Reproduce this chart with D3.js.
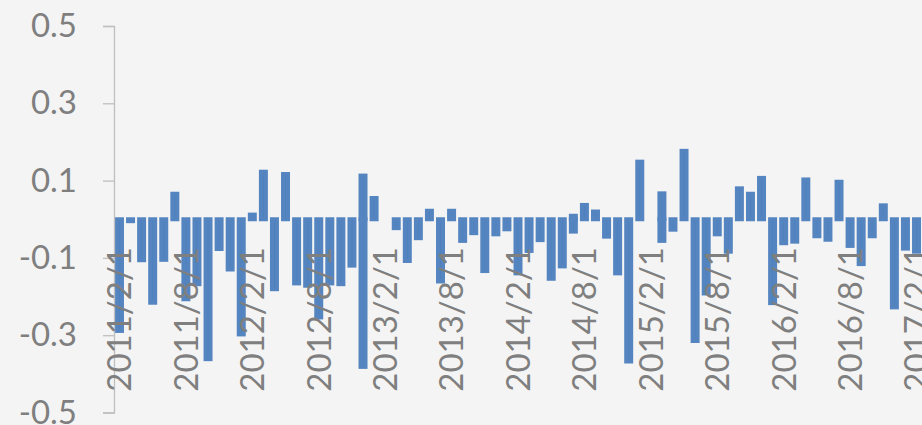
<!DOCTYPE html>
<html>
<head>
<meta charset="utf-8">
<script src="https://cdn.jsdelivr.net/npm/d3@7/dist/d3.min.js"></script>
<style>
  html, body { margin: 0; padding: 0; background: #F4F4F4; overflow: hidden; }
  svg { display: block; }
  text { font-family: Lato, "Open Sans", sans-serif; fill: #7F7F7F; }
</style>
</head>
<body>
<svg id="chart" width="922" height="425"></svg>
<script>
// Monthly axis slots (one per month, 2011/2 .. 2017/2)
const axisMonths = [
  "2011/2/1","2011/3/1","2011/4/1","2011/5/1","2011/6/1","2011/7/1","2011/8/1","2011/9/1","2011/10/1","2011/11/1","2011/12/1",
  "2012/1/1","2012/2/1","2012/3/1","2012/4/1","2012/5/1","2012/6/1","2012/7/1","2012/8/1","2012/9/1","2012/10/1","2012/11/1","2012/12/1",
  "2013/1/1","2013/2/1","2013/3/1","2013/4/1","2013/5/1","2013/6/1","2013/7/1","2013/8/1","2013/9/1","2013/10/1","2013/11/1","2013/12/1",
  "2014/1/1","2014/2/1","2014/3/1","2014/4/1","2014/5/1","2014/6/1","2014/7/1","2014/8/1","2014/9/1","2014/10/1","2014/11/1","2014/12/1",
  "2015/1/1","2015/2/1","2015/3/1","2015/4/1","2015/5/1","2015/6/1","2015/7/1","2015/8/1","2015/9/1","2015/10/1","2015/11/1","2015/12/1",
  "2016/1/1","2016/2/1","2016/3/1","2016/4/1","2016/5/1","2016/6/1","2016/7/1","2016/8/1","2016/9/1","2016/10/1","2016/11/1","2016/12/1",
  "2017/1/1","2017/2/1"
];

// Observations: month slot of each observation (some months hold two, some none)
const obsMonths = [
  "2011/2/1","2011/3/1","2011/4/1","2011/5/1","2011/6/1","2011/7/1","2011/8/1","2011/9/1","2011/10/1","2011/11/1","2011/12/1",
  "2012/1/1","2012/2/1","2012/3/1","2012/4/1","2012/5/1","2012/6/1","2012/7/1","2012/8/1","2012/9/1","2012/10/1","2012/11/1",
  "2012/12/1","2012/12/1",
  "2013/1/1","2013/3/1","2013/4/1","2013/5/1","2013/6/1","2013/7/1","2013/8/1","2013/9/1","2013/10/1","2013/11/1","2013/12/1",
  "2014/1/1","2014/2/1","2014/3/1","2014/4/1","2014/5/1","2014/6/1","2014/7/1","2014/7/1","2014/8/1","2014/9/1","2014/10/1","2014/11/1","2014/12/1",
  "2015/1/1","2015/3/1","2015/3/1","2015/4/1","2015/5/1","2015/6/1","2015/7/1","2015/8/1","2015/9/1","2015/10/1","2015/11/1","2015/12/1",
  "2016/1/1","2016/2/1","2016/3/1","2016/4/1","2016/5/1","2016/6/1","2016/7/1","2016/8/1","2016/9/1","2016/10/1","2016/11/1","2016/12/1",
  "2017/1/1","2017/2/1"
];
const obsValues = [
  -0.289,-0.005,-0.106,-0.216,-0.105,0.066,-0.207,-0.168,-0.362,-0.077,-0.130,
  -0.298,0.012,0.123,-0.181,0.117,-0.166,-0.172,-0.254,-0.166,-0.168,-0.120,
  0.113,-0.382,
  0.055,-0.023,-0.108,-0.049,0.022,-0.161,0.022,-0.056,-0.036,-0.134,-0.039,
  -0.026,-0.140,-0.082,-0.054,-0.154,-0.122,0.009,-0.032,0.037,0.020,-0.045,-0.140,-0.368,
  0.149,0.067,-0.056,-0.027,0.177,-0.315,-0.192,-0.039,-0.084,0.080,0.066,0.107,
  -0.217,-0.062,-0.058,0.103,-0.044,-0.053,0.097,-0.069,-0.116,-0.044,0.036,-0.228,
  -0.076,-0.084
];

// Axis tick values and labels
const yTicks = [0.5, 0.3, 0.1, -0.1, -0.3, -0.5];
const yTickLabels = ["0.5", "0.3", "0.1", "-0.1", "-0.3", "-0.5"];
const xTickLabels = ["2011/2/1","2011/8/1","2012/2/1","2012/8/1","2013/2/1","2013/8/1","2014/2/1",
                     "2014/8/1","2015/2/1","2015/8/1","2016/2/1","2016/8/1","2017/2/1"];

const svg = d3.select("#chart");
const W = 922, H = 425;
const plotLeft = 114, plotTop = 26, plotBottom = 412.5;

const x = d3.scaleBand()
  .domain(axisMonths)
  .range([plotLeft, W])
  .paddingInner(0.55)
  .paddingOuter(0.27);

const y = d3.scaleLinear()
  .domain([-0.5, 0.5])
  .range([plotBottom, plotTop]);

// Bars
const data = obsMonths.map((m, i) => ({ month: m, value: obsValues[i] }));
svg.append("g")
  .selectAll("rect")
  .data(data)
  .join("rect")
  .attr("x", d => x(d.month))
  .attr("width", x.bandwidth())
  .attr("y", d => y(Math.max(0, d.value)))
  .attr("height", d => Math.abs(y(d.value) - y(0)))
  .attr("fill", "#4F81BD")
  .attr("stroke", "#5585C0")
  .attr("stroke-width", 4)
  .attr("stroke-linejoin", "miter");

// Vertical value axis
const yAxis = d3.axisLeft(y)
  .tickValues(yTicks)
  .tickFormat((d, i) => yTickLabels[i])
  .tickSize(11)
  .tickPadding(26);

const gy = svg.append("g")
  .attr("transform", `translate(${plotLeft},0)`)
  .call(yAxis);
gy.select(".domain").attr("stroke", "#BFBFBF").attr("stroke-width", 1.3);
gy.selectAll(".tick line").attr("stroke", "#BFBFBF").attr("stroke-width", 1.3);
gy.selectAll(".tick text")
  .attr("fill", "#7F7F7F")
  .style("font-family", "Lato, 'Open Sans', sans-serif")
  .style("font-size", "33px");

// Rotated category labels, every sixth month
svg.append("g")
  .selectAll("text")
  .data(xTickLabels)
  .join("text")
  .attr("transform", d => `translate(${x(d) + x.bandwidth() / 2},247) rotate(-90)`)
  .attr("text-anchor", "end")
  .attr("dy", "0.36em")
  .style("font-size", "33px")
  .text(d => d);
</script>
</body>
</html>
